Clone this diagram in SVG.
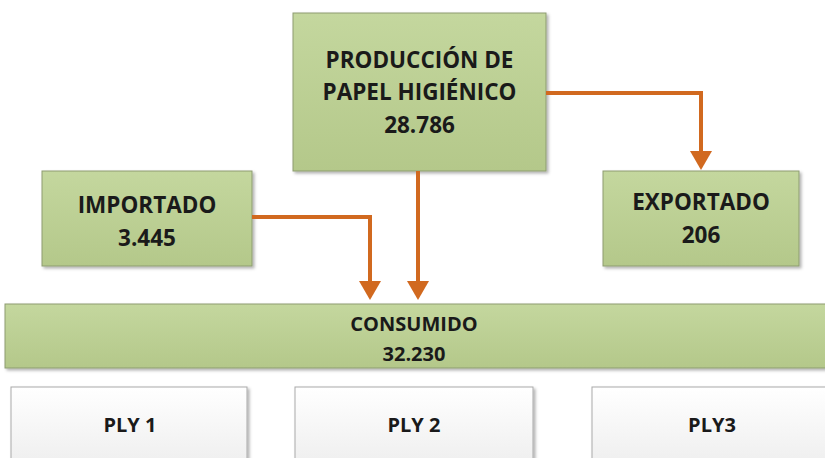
<svg xmlns="http://www.w3.org/2000/svg" width="825" height="458" viewBox="0 0 825 458">
  <defs>
    <linearGradient id="green" x1="0" y1="0" x2="0" y2="1">
      <stop offset="0" stop-color="#c4d79e"/>
      <stop offset="1" stop-color="#b4c88a"/>
    </linearGradient>
    <linearGradient id="white" x1="0" y1="0" x2="0" y2="1">
      <stop offset="0" stop-color="#ffffff"/>
      <stop offset="1" stop-color="#ececec"/>
    </linearGradient>
    <filter id="shadow" x="-10%" y="-10%" width="120%" height="130%">
      <feDropShadow dx="2" dy="2" stdDeviation="1.5" flood-color="#000" flood-opacity="0.3"/>
    </filter>
    <marker id="arrow" markerUnits="userSpaceOnUse" markerWidth="19" markerHeight="22" refX="0" refY="11" orient="auto">
      <path d="M0,0 L19,11 L0,22 z" fill="#d1691f"/>
    </marker>
    <style>
      .g { fill: url(#green); stroke: #8d9c70; stroke-width: 1; filter: url(#shadow); }
      .w { fill: url(#white); stroke: #a9a9a9; stroke-width: 1; filter: url(#shadow); }
      .t { font-family: "Open Sans", "Liberation Sans", sans-serif; font-weight: bold; fill: #1a1a1a; text-anchor: middle; }
      .big { font-size: 22.5px; }
      .mid { font-size: 20px; }
      .c { fill: none; stroke: #d1691f; stroke-width: 4; marker-end: url(#arrow); }
    </style>
  </defs>

  <g id="produccion">
    <rect class="g" x="293" y="13" width="253" height="158"/>
    <text class="t big" x="419.5" y="68">PRODUCCIÓN DE</text>
    <text class="t big" x="419.5" y="100">PAPEL HIGIÉNICO</text>
    <text class="t big" x="419.5" y="133">28.786</text>
  </g>

  <g id="importado">
    <rect class="g" x="42" y="171" width="210" height="95"/>
    <text class="t big" x="147" y="213">IMPORTADO</text>
    <text class="t big" x="147" y="246">3.445</text>
  </g>

  <g id="exportado">
    <rect class="g" x="603" y="171" width="196" height="95"/>
    <text class="t big" x="701" y="210">EXPORTADO</text>
    <text class="t big" x="701" y="243">206</text>
  </g>

  <g id="consumido">
    <rect class="g" x="5" y="304" width="830" height="64"/>
    <text class="t mid" x="414" y="331">CONSUMIDO</text>
    <text class="t mid" x="414" y="361">32.230</text>
  </g>

  <g id="ply1">
    <rect class="w" x="11" y="387" width="236" height="90"/>
    <text class="t mid" x="130" y="432">PLY 1</text>
  </g>
  <g id="ply2">
    <rect class="w" x="295" y="387" width="238" height="90"/>
    <text class="t mid" x="414" y="432">PLY 2</text>
  </g>
  <g id="ply3">
    <rect class="w" x="592" y="387" width="250" height="90"/>
    <text class="t mid" x="712" y="432">PLY3</text>
  </g>

  <g id="connectors">
    <path class="c" d="M252,217 H370 V281"/>
    <path class="c" d="M418,171 V281"/>
    <path class="c" d="M546,93 H701 V151"/>
  </g>
</svg>
